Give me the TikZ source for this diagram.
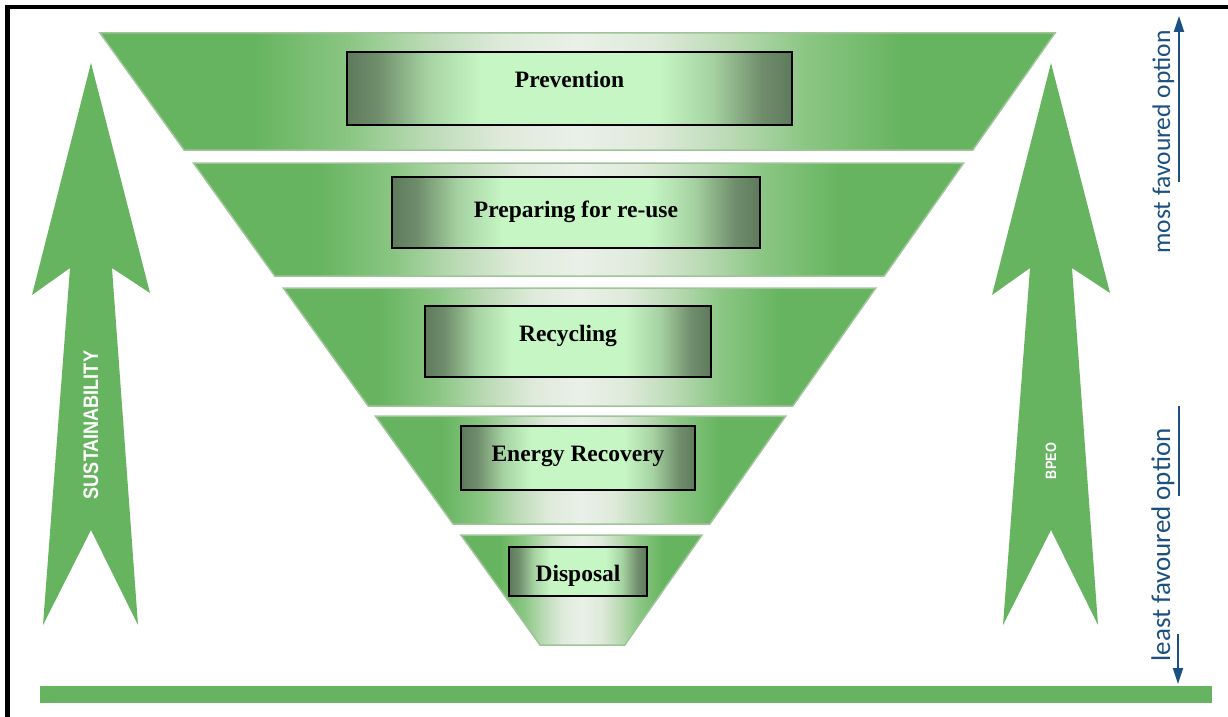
\documentclass[tikz,border=0pt]{standalone}
\usepackage{fontspec}
\setmainfont{Liberation Serif}
\newfontfamily\optfont{Carlito}
\newfontfamily\arrfont{Liberation Sans}
\usetikzlibrary{arrows.meta}
\definecolor{tg}{RGB}{102,180,95}
\definecolor{tgm}{RGB}{138,198,131}
\definecolor{tgl}{RGB}{186,218,180}
\definecolor{tgw}{RGB}{222,234,218}
\definecolor{tgc}{RGB}{234,240,232}
\definecolor{bxd}{RGB}{94,122,92}
\definecolor{bxm}{RGB}{112,142,108}
\definecolor{bxl}{RGB}{166,210,162}
\definecolor{bxc}{RGB}{198,246,196}
\definecolor{optblue}{RGB}{27,80,128}
\definecolor{rim}{RGB}{160,196,153}
\pgfdeclarehorizontalshading{trapsh}{100bp}{color(0bp)=(tg); color(33bp)=(tg); color(38bp)=(tgm); color(42bp)=(tgl); color(46bp)=(tgw); color(50bp)=(tgc); color(54bp)=(tgw); color(58bp)=(tgl); color(62bp)=(tgm); color(67bp)=(tg); color(100bp)=(tg)}
\pgfdeclarehorizontalshading{boxsh}{100bp}{color(0bp)=(bxd); color(25bp)=(bxd); color(28.5bp)=(bxm); color(34bp)=(bxl); color(40bp)=(bxc); color(60bp)=(bxc); color(66bp)=(bxl); color(71.5bp)=(bxm); color(75bp)=(bxd); color(100bp)=(bxd)}
\tikzset{
  trapst/.style={shading=trapsh, draw=rim, line width=1.5pt},
  boxst/.style={shading=boxsh, draw=black, line width=2pt, inner sep=0pt},
  lab/.style={font=\bfseries\fontsize{23.5}{26}\selectfont, anchor=base, inner sep=0pt},
  greenarrow/.style={fill=tg},
  arrlab/.style={text=white, rotate=90, inner sep=0pt},
  optlab/.style={text=optblue, rotate=90, anchor=base, inner sep=0pt},
  optline/.style={draw=optblue, line width=2pt},
  optarrow/.style={optline, -{Triangle[length=16pt,width=10pt]}}
}
\newcommand\WHtrap[2]{%
  \pgfmathsetmacro\WHla{100+0.719*(#1-33)}%
  \pgfmathsetmacro\WHra{1055-0.703*(#1-33)}%
  \pgfmathsetmacro\WHlb{100+0.719*(#2-33)}%
  \pgfmathsetmacro\WHrb{1055-0.703*(#2-33)}%
  \shade[trapst] (\WHla,#1) -- (\WHra,#1) -- (\WHrb,#2) -- (\WHlb,#2) -- cycle;
}
\begin{document}
\begin{tikzpicture}[x=1pt,y=-1pt]
\useasboundingbox (0,0) rectangle (1228,717);
\fill[white] (0,0) rectangle (1228,717);
% frame
\draw[line width=4.5pt, line join=miter] (7.5,717) -- (7.5,7) -- (1228,7);
% hierarchy layers
\WHtrap{33}{150}
\WHtrap{163}{276}
\WHtrap{288}{406}
\WHtrap{416}{524}
\WHtrap{535}{645}
% boxes
\node[boxst, minimum width=445pt, minimum height=73pt] (b1) at (569.5,88.5) {};
\node[boxst, minimum width=368pt, minimum height=71pt] (b2) at (576,212.5) {};
\node[boxst, minimum width=286pt, minimum height=71pt] (b3) at (568,341.5) {};
\node[boxst, minimum width=234pt, minimum height=64pt] (b4) at (578,458) {};
\node[boxst, minimum width=138pt, minimum height=49pt] (b5) at (578,571.5) {};
\node[lab] (t1) at (569.5,87) {Prevention};
\node[lab] (t2) at (576,217) {Preparing for re-use};
\node[lab] (t3) at (568,341) {Recycling};
\node[lab] (t4) at (578,461) {Energy Recovery};
\node[lab] (t5) at (578,581) {Disposal};
% green arrows
\fill[greenarrow] (91,63) -- (150,293) -- (112,268) -- (138,625) -- (91,530) -- (43,625) -- (70,268) -- (32,295) -- cycle;
\fill[greenarrow] (1051,63) -- (1110,293) -- (1072,268) -- (1098,625) -- (1051,530) -- (1003,625) -- (1030,268) -- (992,295) -- cycle;
\node[arrlab, font=\arrfont\bfseries\fontsize{21}{21}\selectfont] (sus) at (91,425) {\scalebox{0.86}[1]{SUSTAINABILITY}};
\node[arrlab, font=\arrfont\bfseries\fontsize{15}{15}\selectfont] (bpeo) at (1051,461) {\scalebox{0.85}[1]{BPEO}};
% bottom bar
\fill[tg] (40,686) rectangle (1212,703);
% favoured option labels
\node[optlab, font=\optfont\fontsize{25.5}{26}\selectfont] (most) at (1170,142) {most favoured option};
\node[optlab, font=\optfont\fontsize{27}{27}\selectfont] (least) at (1170,545) {least favoured option};
\coordinate (ua1) at (1179,182);
\coordinate (ua2) at (1179,16);
\coordinate (lb1) at (1179,406);
\coordinate (lb2) at (1179,496);
\coordinate (la1) at (1178,634);
\coordinate (la2) at (1178,684);
\draw[optarrow] (ua1) -- (ua2);
\draw[optline] (lb1) -- (lb2);
\draw[optarrow] (la1) -- (la2);
\end{tikzpicture}
\end{document}
